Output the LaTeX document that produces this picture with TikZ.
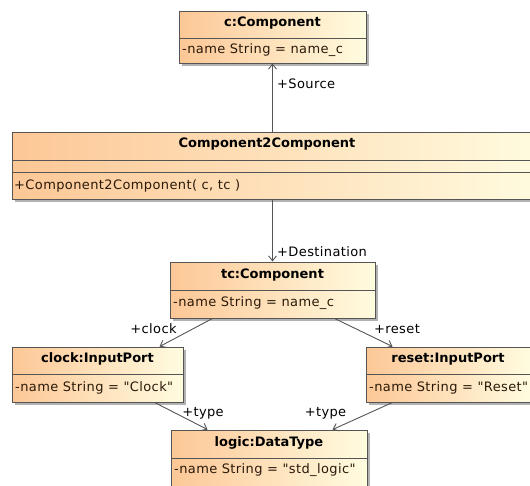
\documentclass[tikz,border=0pt]{standalone}
\usepackage{fontspec}
\setmainfont{DejaVu Sans}
\newfontfamily\attrfont[LetterSpace=3,Ligatures=TeXOff]{DejaVu Sans}
\usetikzlibrary{shadows,arrows.meta,calc}
\definecolor{boxL}{HTML}{FDC796}
\definecolor{boxR}{HTML}{FFFCE0}
\definecolor{edgec}{HTML}{555555}
\definecolor{txt}{HTML}{2A1A0A}
\tikzset{
 umlbox/.style={draw=edgec, line width=0.9pt, left color=boxL, right color=boxR, inner sep=0pt,
   drop shadow={shadow xshift=2.5pt, shadow yshift=-2.5pt, fill=black, opacity=0.3}},
 head/.style={font=\fontsize{13}{15}\selectfont\bfseries, text=black, inner sep=0pt},
 attr/.style={font=\attrfont\fontsize{13}{15}\selectfont, text=txt, anchor=west, inner sep=0pt},
 divl/.style={draw=edgec, line width=0.9pt},
 conn/.style={draw=edgec, line width=0.9pt, -{Straight Barb[length=5pt,width=8pt]}},
 lbl/.style={font=\attrfont\fontsize{13}{15}\selectfont, text=black, inner sep=0pt},
}
\begin{document}
\begin{tikzpicture}[x=1pt,y=-1pt]
\useasboundingbox (0,0) rectangle (530,485);
% boxes
\node[umlbox, minimum width=187pt, minimum height=52pt] (c) at (272.5,37) {};
\node[umlbox, minimum width=533pt, minimum height=67pt] (c2c) at (278.5,165.5) {};
\node[umlbox, minimum width=205pt, minimum height=56pt] (tc) at (272.5,290) {};
\node[umlbox, minimum width=171pt, minimum height=55pt] (clock) at (97.5,374.5) {};
\node[umlbox, minimum width=165pt, minimum height=55pt] (reset) at (448.5,374.5) {};
\node[umlbox, minimum width=196pt, minimum height=60pt] (logic) at (269,460) {};
% dividers
\draw[divl] (c.west |- 0,38) -- (c.east |- 0,38);
\draw[divl] (c2c.west |- 0,160) -- (c2c.east |- 0,160);
\draw[divl] (c2c.west |- 0,172) -- (c2c.east |- 0,172);
\draw[divl] (tc.west |- 0,290) -- (tc.east |- 0,290);
\draw[divl] (clock.west |- 0,374) -- (clock.east |- 0,374);
\draw[divl] (reset.west |- 0,374) -- (reset.east |- 0,374);
\draw[divl] (logic.west |- 0,458) -- (logic.east |- 0,458);
% texts
\node[head] (ch) at (272.5,23.5) {c:Component};
\node[attr] (ca) at (182,50.5) {-name String = name\_c};
\node[head] (c2ch) at (267,144) {Component2Component};
\node[attr] (c2cm) at (14,185.5) {+Component2Component( c, tc )};
\node[head] (tch) at (272.5,275) {tc:Component};
\node[attr] (tca) at (173,303.5) {-name String = name\_c};
\node[head] (clh) at (97.5,359) {clock:InputPort};
\node[attr] (cla) at (15,387.5) {-name String = "Clock"};
\node[head] (rsh) at (448,359) {reset:InputPort};
\node[attr] (rsa) at (369,387.5) {-name String = "Reset"};
\node[head] (lgh) at (269,442.5) {logic:DataType};
\node[attr] (lga) at (174,470.5) {-name String = "std\_logic"};
% connectors
\draw[conn] (c2c.north -| c.south) -- (c.south);
\draw[conn] (c2c.south -| tc.north) -- (tc.north);
\draw[conn] ($(tc.south west)+(43,0)$) -- ($(clock.north west)+(148,0)$);
\draw[conn] ($(tc.south west)+(165,0)$) -- ($(reset.north west)+(27,0)$);
\draw[conn] ($(clock.south west)+(143,0)$) -- ($(logic.north west)+(37,0)$);
\draw[conn] ($(reset.south west)+(27,0)$) -- ($(logic.north west)+(162,0)$);
% labels
\node[lbl, anchor=west] (ls) at (277,84) {+Source};
\node[lbl, anchor=west] (ld) at (277,251.5) {+Destination};
\node[lbl] (lc) at (153.5,329) {+clock};
\node[lbl] (lr) at (397,329) {+reset};
\node[lbl] (lt1) at (203,413) {+type};
\node[lbl] (lt2) at (325.5,413) {+type};
\end{tikzpicture}
\end{document}
